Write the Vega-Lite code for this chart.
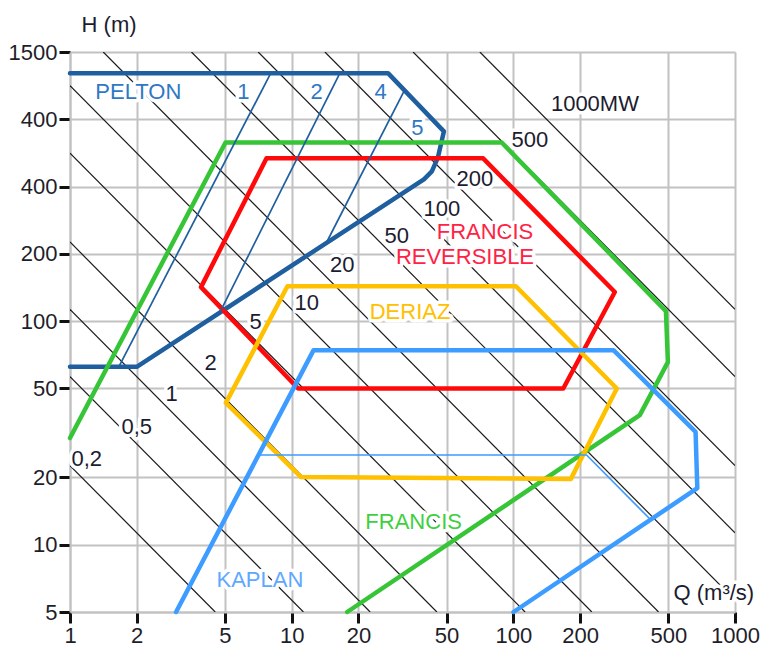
{
  "$schema": "https://vega.github.io/schema/vega-lite/v6.json",
  "width": 665,
  "height": 560,
  "autosize": {"type": "none"},
  "padding": {"left": 70, "top": 52, "right": 32, "bottom": 33},
  "background": "white",
  "config": {
    "view": {"stroke": null},
    "font": "Liberation Sans",
    "axis": {
      "grid": true,
      "gridColor": "#c2c2c2",
      "gridWidth": 2,
      "domainColor": "#c2c2c2",
      "domainWidth": 2,
      "tickColor": "#111111",
      "tickWidth": 3,
      "tickSize": 11,
      "labelFont": "Liberation Sans",
      "labelFontSize": 22,
      "labelColor": "#1e1e2a",
      "labelPadding": 2,
      "labelFlush": false,
      "labelOverlap": false
    }
  },
  "datasets": {
    "power": [
      {"P": 0.2, "Q": 1, "H": 22.6}, {"P": 0.2, "Q": 4.52, "H": 5},
      {"P": 0.5, "Q": 1, "H": 56.5}, {"P": 0.5, "Q": 11.3, "H": 5},
      {"P": 1, "Q": 1, "H": 113}, {"P": 1, "Q": 22.6, "H": 5},
      {"P": 2, "Q": 1, "H": 226}, {"P": 2, "Q": 45.2, "H": 5},
      {"P": 5, "Q": 1, "H": 565}, {"P": 5, "Q": 113, "H": 5},
      {"P": 10, "Q": 1, "H": 1130}, {"P": 10, "Q": 226, "H": 5},
      {"P": 20, "Q": 1.4125, "H": 1600}, {"P": 20, "Q": 452, "H": 5},
      {"P": 50, "Q": 3.531, "H": 1600}, {"P": 50, "Q": 1000, "H": 5.65},
      {"P": 100, "Q": 7.0625, "H": 1600}, {"P": 100, "Q": 1000, "H": 11.3},
      {"P": 200, "Q": 14.125, "H": 1600}, {"P": 200, "Q": 1000, "H": 22.6},
      {"P": 500, "Q": 35.31, "H": 1600}, {"P": 500, "Q": 1000, "H": 56.5},
      {"P": 1000, "Q": 70.63, "H": 1600}, {"P": 1000, "Q": 1000, "H": 113}
    ],
    "turbines": [
      {"turbine": "PELTON", "part": "envelope", "o": 1, "Q": 1, "H": 1287},
      {"turbine": "PELTON", "part": "envelope", "o": 2, "Q": 27.2, "H": 1287},
      {"turbine": "PELTON", "part": "envelope", "o": 3, "Q": 48.6, "H": 706},
      {"turbine": "PELTON", "part": "envelope", "o": 4, "Q": 45.7, "H": 541},
      {"turbine": "PELTON", "part": "envelope", "o": 5, "Q": 42.9, "H": 468},
      {"turbine": "PELTON", "part": "envelope", "o": 6, "Q": 39.5, "H": 431},
      {"turbine": "PELTON", "part": "envelope", "o": 7, "Q": 2.0, "H": 62.5},
      {"turbine": "PELTON", "part": "envelope", "o": 8, "Q": 1, "H": 62.5},
      {"turbine": "PELTON", "part": "jet 1", "o": 1, "Q": 1.66, "H": 62.5},
      {"turbine": "PELTON", "part": "jet 1", "o": 2, "Q": 8.05, "H": 1287},
      {"turbine": "PELTON", "part": "jet 2", "o": 1, "Q": 4.75, "H": 109.7},
      {"turbine": "PELTON", "part": "jet 2", "o": 2, "Q": 16.5, "H": 1287},
      {"turbine": "PELTON", "part": "jet 4", "o": 1, "Q": 14.4, "H": 226},
      {"turbine": "PELTON", "part": "jet 4", "o": 2, "Q": 32.1, "H": 1067},
      {"turbine": "FRANCIS", "part": "envelope", "o": 1, "Q": 1, "H": 30},
      {"turbine": "FRANCIS", "part": "envelope", "o": 2, "Q": 5.03, "H": 630},
      {"turbine": "FRANCIS", "part": "envelope", "o": 3, "Q": 88.6, "H": 630},
      {"turbine": "FRANCIS", "part": "envelope", "o": 4, "Q": 488, "H": 110.8},
      {"turbine": "FRANCIS", "part": "envelope", "o": 5, "Q": 498, "H": 65.6},
      {"turbine": "FRANCIS", "part": "envelope", "o": 6, "Q": 372, "H": 38},
      {"turbine": "FRANCIS", "part": "envelope", "o": 7, "Q": 17.8, "H": 5},
      {"turbine": "FRANCIS REVERSIBLE", "part": "envelope", "o": 1, "Q": 3.9, "H": 142},
      {"turbine": "FRANCIS REVERSIBLE", "part": "envelope", "o": 2, "Q": 7.7, "H": 535},
      {"turbine": "FRANCIS REVERSIBLE", "part": "envelope", "o": 3, "Q": 73.1, "H": 535},
      {"turbine": "FRANCIS REVERSIBLE", "part": "envelope", "o": 4, "Q": 287, "H": 135},
      {"turbine": "FRANCIS REVERSIBLE", "part": "envelope", "o": 5, "Q": 168, "H": 50},
      {"turbine": "FRANCIS REVERSIBLE", "part": "envelope", "o": 6, "Q": 10.7, "H": 50},
      {"turbine": "FRANCIS REVERSIBLE", "part": "envelope", "o": 7, "Q": 3.9, "H": 142},
      {"turbine": "DERIAZ", "part": "envelope", "o": 1, "Q": 5.05, "H": 43.1},
      {"turbine": "DERIAZ", "part": "envelope", "o": 2, "Q": 9.57, "H": 143.3},
      {"turbine": "DERIAZ", "part": "envelope", "o": 3, "Q": 102.7, "H": 143.3},
      {"turbine": "DERIAZ", "part": "envelope", "o": 4, "Q": 293, "H": 50},
      {"turbine": "DERIAZ", "part": "envelope", "o": 5, "Q": 181.8, "H": 19.7},
      {"turbine": "DERIAZ", "part": "envelope", "o": 6, "Q": 11.0, "H": 20.1},
      {"turbine": "DERIAZ", "part": "envelope", "o": 7, "Q": 5.05, "H": 43.1},
      {"turbine": "KAPLAN", "part": "envelope", "o": 1, "Q": 3.01, "H": 5},
      {"turbine": "KAPLAN", "part": "envelope", "o": 2, "Q": 12.56, "H": 74.2},
      {"turbine": "KAPLAN", "part": "envelope", "o": 3, "Q": 283, "H": 74.2},
      {"turbine": "KAPLAN", "part": "envelope", "o": 4, "Q": 664, "H": 32},
      {"turbine": "KAPLAN", "part": "envelope", "o": 5, "Q": 676, "H": 17.9},
      {"turbine": "KAPLAN", "part": "envelope", "o": 6, "Q": 100.2, "H": 5},
      {"turbine": "KAPLAN", "part": "inner", "o": 1, "Q": 7.12, "H": 25.2},
      {"turbine": "KAPLAN", "part": "inner", "o": 2, "Q": 214, "H": 25.2},
      {"turbine": "KAPLAN", "part": "inner", "o": 3, "Q": 417.6, "H": 12.9}
    ],
    "labels": [
      {"text": "0,2", "group": "power", "Q": 1.19, "H": 24.15},
      {"text": "0,5", "group": "power", "Q": 2.0, "H": 33.7},
      {"text": "1", "group": "power", "Q": 2.875, "H": 47.0},
      {"text": "2", "group": "power", "Q": 4.31, "H": 65.1},
      {"text": "5", "group": "power", "Q": 6.88, "H": 99.3},
      {"text": "10", "group": "power", "Q": 11.69, "H": 120},
      {"text": "20", "group": "power", "Q": 16.9, "H": 179.2},
      {"text": "50", "group": "power", "Q": 29.8, "H": 240},
      {"text": "100", "group": "power", "Q": 47.6, "H": 318.7},
      {"text": "200", "group": "power", "Q": 67.1, "H": 434},
      {"text": "500", "group": "power", "Q": 118.8, "H": 644},
      {"text": "1000MW", "group": "power", "Q": 233.4, "H": 933},
      {"text": "PELTON", "group": "PELTON", "Q": 2.033, "H": 1059},
      {"text": "1", "group": "PELTON", "Q": 6.05, "H": 1059},
      {"text": "2", "group": "PELTON", "Q": 12.97, "H": 1059},
      {"text": "4", "group": "PELTON", "Q": 25.2, "H": 1059},
      {"text": "5", "group": "PELTON", "Q": 36.9, "H": 734},
      {"text": "FRANCIS", "group": "FRANCIS REVERSIBLE", "Q": 74.5, "H": 250.6},
      {"text": "REVERSIBLE", "group": "FRANCIS REVERSIBLE", "Q": 60.5, "H": 193.7},
      {"text": "DERIAZ", "group": "DERIAZ", "Q": 34.2, "H": 110},
      {"text": "FRANCIS", "group": "FRANCIS", "Q": 35.5, "H": 12.66},
      {"text": "KAPLAN", "group": "KAPLAN", "Q": 7.19, "H": 6.95},
      {"text": "Q (m³/s)", "group": "axis", "Q": 803, "H": 6.08},
      {"text": "H (m)", "group": "axis", "Q": 1.5, "H": 2104}
    ]
  },
  "encoding": {
    "x": {
      "field": "Q",
      "type": "quantitative",
      "scale": {"type": "log", "domain": [1, 1000], "nice": false},
      "axis": {"values": [1, 2, 5, 10, 20, 50, 100, 200, 500, 1000], "format": "d", "title": null}
    },
    "y": {
      "field": "H",
      "type": "quantitative",
      "scale": {"type": "log", "domain": [5, 1600], "nice": false},
      "axis": {
        "values": [5, 10, 20, 50, 100, 200, 400, 800, 1600],
        "format": "d",
        "labelExpr": "datum.value == 1600 ? '1500' : (datum.value == 800 ? '400' : datum.label)",
        "title": null
      }
    }
  },
  "layer": [
    {
      "data": {"name": "power"},
      "mark": {"type": "line", "color": "#1a1a1a", "strokeWidth": 1.2, "clip": true},
      "encoding": {"detail": {"field": "P"}, "order": {"field": "Q"}}
    },
    {
      "data": {"name": "labels"},
      "mark": {"type": "text", "fill": "white", "stroke": "white", "strokeWidth": 7, "strokeJoin": "round", "fontSize": 22, "font": "Liberation Sans", "align": "center", "baseline": "middle"},
      "encoding": {"text": {"field": "text"}}
    },
    {
      "data": {"name": "turbines"},
      "transform": [{"filter": "datum.part == 'envelope'"}],
      "mark": {"type": "line", "strokeWidth": 4.5, "strokeJoin": "round", "strokeCap": "round"},
      "encoding": {
        "color": {"field": "turbine", "type": "nominal", "legend": null,
          "scale": {"domain": ["PELTON", "FRANCIS", "FRANCIS REVERSIBLE", "DERIAZ", "KAPLAN"],
                    "range": ["#1f5f9f", "#36c536", "#ff0a0a", "#ffc000", "#3d9cff"]}},
        "detail": {"field": "part"},
        "order": {"field": "o"}
      }
    },
    {
      "data": {"name": "turbines"},
      "transform": [{"filter": "datum.part != 'envelope'"}],
      "mark": {"type": "line", "strokeWidth": 1.7},
      "encoding": {
        "color": {"field": "turbine", "type": "nominal", "legend": null,
          "scale": {"domain": ["PELTON", "FRANCIS", "FRANCIS REVERSIBLE", "DERIAZ", "KAPLAN"],
                    "range": ["#1f5f9f", "#36c536", "#ff0a0a", "#ffc000", "#3d9cff"]}},
        "detail": {"field": "part"},
        "order": {"field": "o"}
      }
    },
    {
      "data": {"name": "labels"},
      "mark": {"type": "text", "fontSize": 22, "font": "Liberation Sans", "align": "center", "baseline": "middle"},
      "encoding": {
        "text": {"field": "text"},
        "fill": {"field": "group", "type": "nominal", "legend": null,
          "scale": {"domain": ["power", "axis", "PELTON", "FRANCIS", "FRANCIS REVERSIBLE", "DERIAZ", "KAPLAN"],
                    "range": ["#1c1c30", "#1c1c30", "#2f78c4", "#3fcf3f", "#ff2244", "#ffc000", "#5ea8ff"]}}
      }
    },
    {
      "mark": {"type": "rule", "color": "#111111", "strokeWidth": 1.5},
      "encoding": {
        "x": {"datum": 1, "type": "quantitative", "scale": {"type": "log", "domain": [1, 1000], "nice": false}},
        "y": {"datum": 1600, "type": "quantitative", "scale": {"type": "log", "domain": [5, 1600], "nice": false}},
        "y2": {"datum": 2148}
      }
    },
    {
      "mark": {"type": "point", "shape": "M0,-1L0.66,1L-0.66,1Z", "filled": true, "color": "#111111", "opacity": 1, "size": 144},
      "encoding": {
        "x": {"datum": 1, "type": "quantitative", "scale": {"type": "log", "domain": [1, 1000], "nice": false}},
        "y": {"datum": 1822, "type": "quantitative", "scale": {"type": "log", "domain": [5, 1600], "nice": false}}
      }
    },
    {
      "mark": {"type": "rule", "color": "#c2c2c2", "strokeWidth": 2},
      "encoding": {
        "x": {"datum": 1000, "type": "quantitative", "scale": {"type": "log", "domain": [1, 1000], "nice": false}},
        "x2": {"datum": 1250},
        "y": {"datum": 5, "type": "quantitative", "scale": {"type": "log", "domain": [5, 1600], "nice": false}}
      }
    },
    {
      "mark": {"type": "point", "shape": "M-1,-0.32L1,0L-1,0.32Z", "filled": true, "color": "#111111", "opacity": 1, "size": 400},
      "encoding": {
        "x": {"datum": 1250, "type": "quantitative", "scale": {"type": "log", "domain": [1, 1000], "nice": false}},
        "y": {"datum": 4.85, "type": "quantitative", "scale": {"type": "log", "domain": [5, 1600], "nice": false}}
      }
    }
  ]
}
